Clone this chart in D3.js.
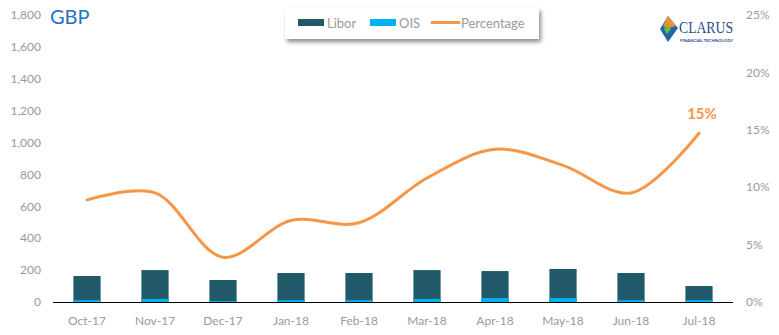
<!DOCTYPE html>
<html>
<head>
<meta charset="utf-8">
<script src="https://cdn.jsdelivr.net/npm/d3@7"></script>
<style>
  html, body { margin: 0; padding: 0; background: #fff; }
  svg { display: block; font-family: "Lato", "Open Sans", sans-serif; }
</style>
</head>
<body>
<svg id="chart" width="779" height="335"></svg>
<script>
const categories = ["Oct-17","Nov-17","Dec-17","Jan-18","Feb-18","Mar-18","Apr-18","May-18","Jun-18","Jul-18"];
const libor = [163, 200, 138, 182, 182, 200, 194, 207, 182, 100];
const ois = [12, 19, 6, 12, 12, 19, 25, 25, 12, 12];
const percentage = [0.089, 0.095, 0.039, 0.071, 0.069, 0.108, 0.133, 0.119, 0.095, 0.147];
const leftTicks = [0, 200, 400, 600, 800, 1000, 1200, 1400, 1600, 1800];
const rightTicks = [0, 0.05, 0.10, 0.15, 0.20, 0.25];
const lastLabel = "15%";

const svg = d3.select("#chart");
const plotL = 53, plotR = 733, plotT = 15, plotB = 302;

const x = d3.scaleBand().domain(categories).range([plotL, plotR]).paddingInner(0.6).paddingOuter(0.3);
const yL = d3.scaleLinear().domain([0, 1800]).range([plotB, plotT]);
const yR = d3.scaleLinear().domain([0, 0.25]).range([plotB, plotT]);

const grey = "#9a9a9a";

// left axis labels
svg.append("g").selectAll("text").data(leftTicks).join("text")
  .attr("x", 41).attr("y", d => yL(d)).attr("dy", "0.35em")
  .attr("text-anchor", "end").attr("fill", grey).attr("font-size", 12)
  .text(d => d3.format(",")(d));

// right axis labels
svg.append("g").selectAll("text").data(rightTicks).join("text")
  .attr("x", 746).attr("y", d => yR(d)).attr("dy", "0.35em")
  .attr("text-anchor", "start").attr("fill", grey).attr("font-size", 12)
  .text(d => d3.format(".0%")(d));

// bars
const bars = svg.append("g");
bars.selectAll("rect.libor").data(categories).join("rect")
  .attr("class", "libor")
  .attr("x", d => x(d)).attr("width", x.bandwidth())
  .attr("y", (d, i) => yL(libor[i])).attr("height", (d, i) => yL(0) - yL(libor[i]))
  .attr("fill", "#215968");
bars.selectAll("rect.ois").data(categories).join("rect")
  .attr("class", "ois")
  .attr("x", d => x(d)).attr("width", x.bandwidth())
  .attr("y", (d, i) => yL(ois[i])).attr("height", (d, i) => yL(0) - yL(ois[i]))
  .attr("fill", "#00b0f0");

// x axis line
svg.append("line").attr("x1", plotL).attr("x2", plotR).attr("y1", plotB + 0.5).attr("y2", plotB + 0.5)
  .attr("stroke", "#000").attr("stroke-width", 1.2);

// x labels
svg.append("g").selectAll("text").data(categories).join("text")
  .attr("x", d => x(d) + x.bandwidth() / 2).attr("y", 321).attr("dy", "0.35em")
  .attr("text-anchor", "middle").attr("fill", grey).attr("font-size", 12)
  .text(d => d);

// percentage line
const line = d3.line()
  .x((d, i) => x(categories[i]) + x.bandwidth() / 2)
  .y(d => yR(d))
  .curve(d3.curveCatmullRom.alpha(0.5));
svg.append("path").datum(percentage)
  .attr("d", line).attr("fill", "none")
  .attr("stroke", "#f79646").attr("stroke-width", 3).attr("stroke-linecap", "round");

// last label
const li = categories.length - 1;
svg.append("text")
  .attr("x", x(categories[li]) + x.bandwidth() / 2 + 3).attr("y", yR(percentage[li]) - 14)
  .attr("text-anchor", "middle").attr("fill", "#f79646").attr("font-size", 15).attr("font-weight", "bold")
  .text(lastLabel);

// title
svg.append("text").attr("x", 50).attr("y", 24).attr("fill", "#1a73c4").attr("font-size", 20)
  .text("GBP");

// legend
const defs = svg.append("defs");
const f = defs.append("filter").attr("id", "shadow").attr("x", "-10%").attr("y", "-30%").attr("width", "130%").attr("height", "180%");
f.append("feDropShadow").attr("dx", 2).attr("dy", 3).attr("stdDeviation", 2).attr("flood-color", "#000").attr("flood-opacity", 0.45);
const lg = svg.append("g");
lg.append("rect").attr("x", 285).attr("y", 8).attr("width", 254).attr("height", 31)
  .attr("fill", "#fff").attr("filter", "url(#shadow)");
const legendItems = [
  {name: "Libor", color: "#215968", type: "rect", x: 298},
  {name: "OIS", color: "#00b0f0", type: "rect", x: 370},
  {name: "Percentage", color: "#f79646", type: "line", x: 432}
];
legendItems.forEach(it => {
  if (it.type === "rect") {
    lg.append("rect").attr("x", it.x).attr("y", 19).attr("width", 26).attr("height", 7).attr("fill", it.color);
  } else {
    lg.append("line").attr("x1", it.x).attr("x2", it.x + 27).attr("y1", 22.5).attr("y2", 22.5)
      .attr("stroke", it.color).attr("stroke-width", 3).attr("stroke-linecap", "round");
  }
  lg.append("text").attr("x", it.x + 29).attr("y", 23).attr("dy", "0.35em")
    .attr("fill", grey).attr("font-size", 13).text(it.name);
});

// logo
const logo = svg.append("g");
logo.append("path").attr("d", "M668,16 L678,28 L668,42 L660,29 Z").attr("fill", "#2465a6");
logo.append("path").attr("d", "M668,16 L676,26 L668,28 L663,26 Z").attr("fill", "#f0932b");
logo.append("path").attr("d", "M667,24 L671,29 L667,34 L664,29 Z").attr("fill", "#6dbb45");
logo.append("text").attr("x", 679).attr("y", 33).attr("fill", "#1f4e8c").attr("font-size", 16)
  .attr("font-family", "Liberation Serif, serif").attr("textLength", 54).attr("lengthAdjust", "spacingAndGlyphs").text("CLARUS");
logo.append("text").attr("x", 680).attr("y", 41.5).attr("fill", "#1f4e8c").attr("font-size", 4)
  .attr("font-weight", "bold").attr("textLength", 53).attr("lengthAdjust", "spacingAndGlyphs").text("FINANCIAL TECHNOLOGY");
</script>
</body>
</html>
